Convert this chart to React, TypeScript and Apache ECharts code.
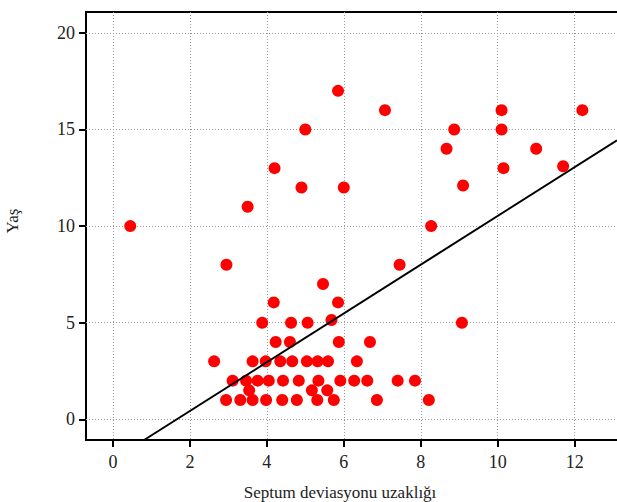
import { useEffect, useRef } from "react";
import * as echarts from "echarts";

// Septum deviation distance (x) and age (y) for each patient
const distX = [
  0.45, 2.95, 3.5, 4.2, 4.9, 5.0, 5.85, 6.0, 7.07, 8.27, 7.45, 8.67, 8.87, 9.1, 9.07,
  10.1, 10.1, 10.15, 11.0, 11.7, 12.2, 5.46, 4.18, 5.85, 3.88, 4.63, 5.06, 5.68,
  4.23, 4.6, 5.87, 6.68,
  2.63, 3.63, 3.97, 4.35, 4.66, 5.04, 5.32, 5.59, 6.34,
  3.11, 3.46, 3.76, 4.05, 4.42, 4.83, 5.34, 5.91, 6.27, 6.61, 7.4, 7.85,
  3.54, 5.17, 5.57,
  2.94, 3.31, 3.63, 3.98, 4.4, 4.78, 5.31, 5.74, 6.86, 8.21,
];
const ageY = [
  10, 8, 11, 13, 12, 15, 17, 12, 16, 10, 8, 14, 15, 12.1, 5,
  16, 15, 13, 14, 13.1, 16, 7, 6.05, 6.05, 5, 5, 5, 5.14,
  4, 4, 4, 4,
  3, 3, 3, 3, 3, 3, 3, 3, 3,
  2, 2, 2, 2, 2, 2, 2, 2, 2, 2, 2, 2,
  1.5, 1.5, 1.5,
  1, 1, 1, 1, 1, 1, 1, 1, 1, 1,
];
// Fitted line endpoints (x, y)
const fitLine = [
  [0.81, -1.07],
  [13.1, 14.44],
];
const xTicks = [0, 2, 4, 6, 8, 10, 12];
const yTicks = [0, 5, 10, 15, 20];
const xAxisTitle = "Septum deviasyonu uzaklığı";
const yAxisTitle = "Yaş";

const FONT = "'Liberation Serif', 'DejaVu Serif', serif";

export default function App() {
  const ref = useRef<HTMLDivElement>(null);
  useEffect(() => {
    if (!ref.current) return;
    const chart = echarts.init(ref.current, undefined, { renderer: "svg" });
    const points = distX.map((x, i) => [x, ageY[i]]);
    const grid = { color: "#999", type: [1, 2] as number[], width: 1 };
    chart.setOption({
      animation: false,
      backgroundColor: "#fff",
      grid: {
        left: 86,
        right: -5,
        top: 12,
        bottom: 62,
        containLabel: false,
        outerBoundsMode: "none",
        show: true,
        borderColor: "#000",
        borderWidth: 2,
        backgroundColor: "transparent",
      },
      xAxis: {
        type: "value",
        min: -0.7,
        max: 13.23,
        name: xAxisTitle,
        nameLocation: "middle",
        nameGap: 44,
        nameTextStyle: {
          fontFamily: FONT,
          fontSize: 17,
          color: "#222",
          padding: [0, 28, 0, 0],
        },
        axisLine: { show: false, onZero: false },
        axisTick: {
          show: true,
          length: 7,
          inside: false,
          customValues: xTicks,
          lineStyle: { color: "#000", width: 2 },
        },
        axisLabel: {
          customValues: xTicks,
          fontFamily: FONT,
          fontSize: 18,
          color: "#222",
          margin: 13,
        },
        splitLine: { show: true, lineStyle: grid },
      },
      yAxis: {
        type: "value",
        min: -1.07,
        max: 21.08,
        name: yAxisTitle,
        nameLocation: "middle",
        nameGap: 65,
        nameRotate: 90,
        nameTextStyle: {
          fontFamily: FONT,
          fontSize: 17,
          color: "#222",
          padding: [0, 0, 0, 10],
        },
        axisLine: { show: false, onZero: false },
        axisTick: {
          show: true,
          length: 7,
          inside: false,
          customValues: yTicks,
          lineStyle: { color: "#000", width: 2 },
        },
        axisLabel: {
          customValues: yTicks,
          fontFamily: FONT,
          fontSize: 18,
          color: "#222",
          margin: 11,
        },
        splitLine: { show: true, lineStyle: grid },
      },
      series: [
        {
          type: "scatter",
          data: points,
          symbol: "circle",
          symbolSize: 12,
          itemStyle: { color: "#ff0000", opacity: 1 },
          z: 3,
        },
        {
          type: "line",
          data: fitLine,
          symbol: "none",
          lineStyle: { color: "#000", width: 2 },
          clip: true,
          z: 4,
        },
      ],
    });
    return () => chart.dispose();
  }, []);
  return (
    <div
      ref={ref}
      style={{ position: "fixed", left: 0, top: 0, width: 617, height: 502 }}
    />
  );
}
